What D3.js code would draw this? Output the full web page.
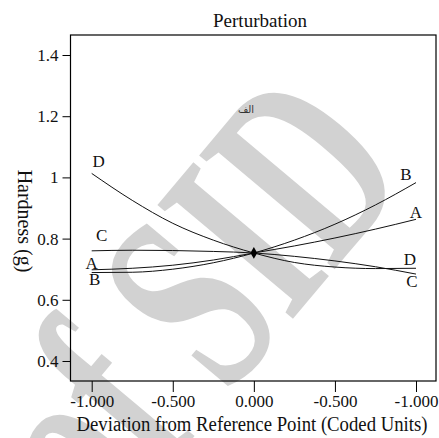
<!DOCTYPE html>
<html><head><meta charset="utf-8">
<script src="https://cdn.jsdelivr.net/npm/d3@7/dist/d3.min.js"></script>
<style>body{margin:0;background:#fff}svg{display:block}</style>
</head><body>
<script>
// ---- data ----
const xs = [-1, -0.75, -0.5, -0.25, 0, 0.25, 0.5, 0.75, 1];
const seriesA = [0.698, 0.703, 0.713, 0.730, 0.753, 0.776, 0.802, 0.831, 0.863];
const seriesB = [0.689, 0.690, 0.700, 0.721, 0.753, 0.795, 0.847, 0.910, 0.983];
const seriesC = [0.760, 0.762, 0.761, 0.758, 0.753, 0.742, 0.727, 0.708, 0.684];
const seriesD = [1.013, 0.925, 0.850, 0.795, 0.753, 0.722, 0.707, 0.702, 0.703];
const seriesNames = ["A", "B", "C", "D"];
const xTickValues = [-1, -0.5, 0, 0.5, 1];
const xTickLabels = ["-1.000", "-0.500", "0.000", "-0.500", "-1.000"];
const yTickValues = [0.4, 0.6, 0.8, 1.0, 1.2, 1.4];
const yTickLabels = ["0.4", "0.6", "0.8", "1", "1.2", "1.4"];
const refPoint = {x: 0, y: 0.753};
const title = "Perturbation";
const xTitle = "Deviation from Reference Point (Coded Units)";
const yTitle = "Hardness (g)";
const panelTag = "الف";
const watermark = "of SID";

// ---- layout ----
const W = 439, H = 438;
const L = 70.5, R = 436, T = 35, B = 381;
const x = d3.scaleLinear().domain([-1.1307, 1.1233]).range([L, R]);
const y = d3.scaleLinear().domain([0.3346, 1.4654]).range([B, T]);
const serif = "'Liberation Serif','Times New Roman',serif";

const svg = d3.select("body").append("svg").attr("width", W).attr("height", H);

// watermark
svg.append("text")
  .attr("transform", "translate(190,300) rotate(-50) scale(0.74,1.15)")
  .attr("text-anchor", "middle").attr("dominant-baseline", "central")
  .style("font-family", serif).style("font-size", "235px").style("font-weight", "bold")
  .attr("fill", "#d2d2d2").text(watermark);

// frame
svg.append("rect").attr("x", L).attr("y", T).attr("width", R - L).attr("height", B - T)
  .attr("fill", "none").attr("stroke", "#000").attr("stroke-width", 1.2);

// axes
const yAxis = d3.axisLeft(y).tickValues(yTickValues).tickSize(8).tickPadding(4)
  .tickFormat((d, i) => yTickLabels[i]);
const gy = svg.append("g").attr("transform", `translate(${L},0)`).call(yAxis);
const xAxis = d3.axisBottom(x).tickValues(xTickValues).tickSize(11).tickPadding(3)
  .tickFormat((d, i) => xTickLabels[i]);
const gx = svg.append("g").attr("transform", `translate(0,${B})`).call(xAxis);
[gx, gy].forEach(g => {
  g.select(".domain").remove();
  g.selectAll("line").attr("stroke", "#000").attr("stroke-width", 1);
  g.selectAll("text").style("font-family", serif).style("font-size", "17px").attr("fill", "#111");
});

// series
const all = {A: seriesA, B: seriesB, C: seriesC, D: seriesD};
const line = d3.line().x((d, i) => x(xs[i])).y(d => y(d)).curve(d3.curveMonotoneX);
const gl = svg.append("g");
seriesNames.forEach(n => {
  gl.append("path").datum(all[n]).attr("d", line)
    .attr("fill", "none").attr("stroke", "#111").attr("stroke-width", 1);
});

// reference marker
svg.append("path").attr("d", d3.symbol(d3.symbolDiamond, 40)())
  .attr("transform", `translate(${x(refPoint.x)},${y(refPoint.y)})`).attr("fill", "#000");

// series end labels
const offL = {A: [0, -1], B: [3, 12], C: [10, -10], D: [7, -6]};
const offR = {A: [0, -1], B: [-10, -3], C: [-4, 13], D: [-6, -3]};
const gLab = svg.append("g").style("font-family", serif).style("font-size", "17px")
  .attr("text-anchor", "middle").attr("fill", "#111");
seriesNames.forEach(n => {
  const s = all[n];
  gLab.append("text").attr("x", x(xs[0]) + offL[n][0]).attr("y", y(s[0]) + offL[n][1]).text(n);
  gLab.append("text").attr("x", x(xs[xs.length - 1]) + offR[n][0])
    .attr("y", y(s[s.length - 1]) + offR[n][1]).text(n);
});

// titles
svg.append("text").attr("x", 260).attr("y", 27).attr("text-anchor", "middle")
  .style("font-family", serif).style("font-size", "19px").attr("fill", "#111").text(title);
svg.append("text").attr("x", 252).attr("y", 431).attr("text-anchor", "middle")
  .style("font-family", serif).style("font-size", "20px").attr("fill", "#111")
  .attr("textLength", 351).attr("lengthAdjust", "spacingAndGlyphs").text(xTitle);
svg.append("text").attr("transform", "translate(18,221) rotate(90)").attr("text-anchor", "middle")
  .style("font-family", serif).style("font-size", "20px").attr("fill", "#111").text(yTitle);
svg.append("text").attr("x", 246).attr("y", 113).attr("text-anchor", "middle")
  .style("font-family", "'DejaVu Sans',sans-serif").style("font-size", "10px")
  .attr("fill", "#333").text(panelTag);
</script>
</body></html>
